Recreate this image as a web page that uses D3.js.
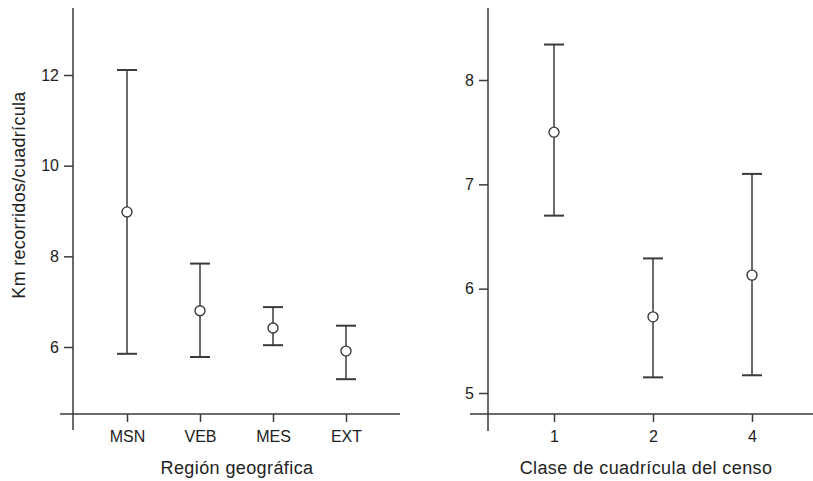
<!DOCTYPE html>
<html>
<head>
<meta charset="utf-8">
<script src="https://cdn.jsdelivr.net/npm/d3@7"></script>
<style>
  body { margin: 0; background: #fff; }
  svg { display: block; font-family: "Liberation Sans", Arial, sans-serif; }
</style>
</head>
<body>
<svg id="chart" width="813" height="481"></svg>
<script>
// Left panel data
const regions = ["MSN", "VEB", "MES", "EXT"];
const regionMean = [8.98, 6.80, 6.42, 5.91];
const regionLow = [5.85, 5.78, 6.04, 5.29];
const regionHigh = [12.11, 7.84, 6.88, 6.47];
const regionTicks = [6, 8, 10, 12];

// Right panel data
const classes = ["1", "2", "4"];
const classMean = [7.50, 5.73, 6.13];
const classLow = [6.70, 5.15, 5.17];
const classHigh = [8.34, 6.29, 7.10];
const classTicks = [5, 6, 7, 8];

const svg = d3.select("#chart");
const ink = "#3a3a3a";
const textCol = "#222";

function panel(cfg) {
  const g = svg.append("g");
  const y = d3.scaleLinear().domain(cfg.yDomain).range(cfg.yRange);
  const x = d3.scalePoint().domain(cfg.cats).range(cfg.xRange);

  // axis lines
  g.append("line").attr("x1", cfg.axisX).attr("x2", cfg.axisX)
    .attr("y1", cfg.yTop).attr("y2", cfg.yBottom)
    .attr("stroke", ink).attr("stroke-width", 1.5);
  g.append("line").attr("x1", cfg.xLeft).attr("x2", cfg.xRight)
    .attr("y1", cfg.axisY).attr("y2", cfg.axisY)
    .attr("stroke", ink).attr("stroke-width", 1.5);

  // y axis ticks
  const yAxis = d3.axisLeft(y).tickValues(cfg.yTicks).tickSize(9).tickPadding(5)
    .tickFormat(d3.format("d"));
  const ya = g.append("g").attr("transform", `translate(${cfg.axisX},0)`).call(yAxis);
  ya.select(".domain").remove();
  ya.selectAll(".tick line").attr("stroke", ink).attr("stroke-width", 1.5);
  ya.selectAll(".tick text").attr("fill", textCol).style("font-size", "16px")
    .style("font-family", "'Liberation Sans', Arial, sans-serif");

  // x axis ticks
  const xAxis = d3.axisBottom(x).tickSize(8).tickPadding(9);
  const xa = g.append("g").attr("transform", `translate(0,${cfg.axisY})`).call(xAxis);
  xa.select(".domain").remove();
  xa.selectAll(".tick line").attr("stroke", ink).attr("stroke-width", 1.5);
  xa.selectAll(".tick text").attr("fill", textCol).style("font-size", "16px")
    .style("font-family", "'Liberation Sans', Arial, sans-serif");

  // error bars
  const data = cfg.cats.map((c, i) => ({ c, m: cfg.mean[i], lo: cfg.low[i], hi: cfg.high[i] }));
  const bars = g.append("g").selectAll("g").data(data).join("g");
  bars.append("line")
    .attr("x1", d => x(d.c)).attr("x2", d => x(d.c))
    .attr("y1", d => y(d.hi)).attr("y2", d => y(d.m) - 5)
    .attr("stroke", ink).attr("stroke-width", 1.5);
  bars.append("line")
    .attr("x1", d => x(d.c)).attr("x2", d => x(d.c))
    .attr("y1", d => y(d.m) + 5).attr("y2", d => y(d.lo))
    .attr("stroke", ink).attr("stroke-width", 1.5);
  bars.append("line")
    .attr("x1", d => x(d.c) - 10).attr("x2", d => x(d.c) + 10)
    .attr("y1", d => y(d.hi)).attr("y2", d => y(d.hi))
    .attr("stroke", ink).attr("stroke-width", 2);
  bars.append("line")
    .attr("x1", d => x(d.c) - 10).attr("x2", d => x(d.c) + 10)
    .attr("y1", d => y(d.lo)).attr("y2", d => y(d.lo))
    .attr("stroke", ink).attr("stroke-width", 2);
  bars.append("circle")
    .attr("cx", d => x(d.c)).attr("cy", d => y(d.m)).attr("r", 5)
    .attr("fill", "none").attr("stroke", ink).attr("stroke-width", 1.4);

  // titles
  g.append("text").attr("x", cfg.xTitleX).attr("y", 474)
    .attr("text-anchor", "middle").attr("fill", textCol)
    .style("font-size", "18px").style("letter-spacing", "0.4px")
    .text(cfg.xTitle);
  if (cfg.yTitle) {
    g.append("text")
      .attr("transform", `translate(25,195) rotate(-90)`)
      .attr("text-anchor", "middle").attr("fill", textCol)
      .style("font-size", "18px").style("letter-spacing", "0.3px")
      .text(cfg.yTitle);
  }
}

panel({
  cats: regions, mean: regionMean, low: regionLow, high: regionHigh,
  yDomain: [6, 12], yRange: [347, 75], yTicks: regionTicks,
  xRange: [127, 346],
  axisX: 73, yTop: 8, yBottom: 430,
  axisY: 414, xLeft: 60, xRight: 400,
  xTitle: "Región geográfica", xTitleX: 237,
  yTitle: "Km recorridos/cuadrícula"
});

panel({
  cats: classes, mean: classMean, low: classLow, high: classHigh,
  yDomain: [5, 8], yRange: [393, 80], yTicks: classTicks,
  xRange: [554, 752],
  axisX: 488, yTop: 8, yBottom: 431,
  axisY: 414, xLeft: 470, xRight: 813,
  xTitle: "Clase de cuadrícula del censo", xTitleX: 646,
  yTitle: null
});
</script>
</body>
</html>
